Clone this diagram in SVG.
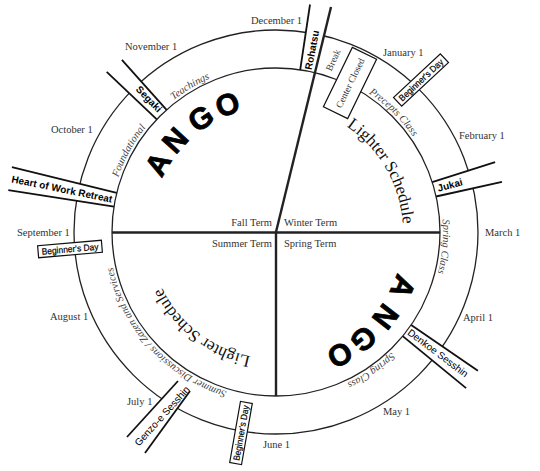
<svg xmlns="http://www.w3.org/2000/svg" xmlns:xlink="http://www.w3.org/1999/xlink" width="540" height="471" viewBox="0 0 540 471">
<style>
.ring{fill:none;stroke:#222;stroke-width:1.3}
.dv{stroke:#222;stroke-width:2.4;fill:none}
.ev{stroke:#111;stroke-width:1.8;fill:none}
.wf{fill:#fff;stroke:none}
.box{fill:#fff;stroke:#111;stroke-width:1.2}
.mo{font-family:"Liberation Serif",serif;font-size:10.5px;fill:#333}
.it{font-family:"Liberation Serif",serif;font-style:italic;font-size:10.5px;fill:#444}
.big{font-family:"Liberation Sans",Arial,sans-serif;font-weight:bold;font-size:30px;fill:#000;stroke:#000;stroke-width:0.8;text-anchor:middle}
.ls{font-family:"Liberation Serif",serif;font-size:17px;fill:#111}
.lab{font-family:"Liberation Sans",Arial,sans-serif;font-size:10px;fill:#000;text-anchor:middle}
.b{font-weight:bold}
.bd{font-family:"Liberation Sans",Arial,sans-serif;font-size:9px;fill:#000;stroke:#000;stroke-width:0.2;text-anchor:middle}
.cc{font-family:"Liberation Serif",serif;font-size:9.5px;fill:#333;text-anchor:middle}
</style>
<defs>
<path id="pTeach" d="M111.24,204.72 A167,167 0 0 1 331.47,74.48"/>
<path id="pFound" d="M120.20,292.12 A167,167 0 0 1 243.85,68.12"/>
<path id="pPrec" d="M259.99,65.77 A167,167 0 0 1 442.49,245.10"/>
<path id="pSpR" d="M394.09,113.91 A167,167 0 0 1 371.79,368.80"/>
<path id="pSpB" d="M442.23,248.01 A167,167 0 0 1 231.37,392.93"/>
<path id="pSum" d="M312.15,395.04 A167,167 0 0 1 116.73,181.78"/>
<path id="pLS1" d="M276.22,105.00 A127,127 0 0 1 385.87,295.69"/>
<path id="pLS2" d="M323.99,349.59 A127,127 0 0 1 150.17,214.76"/>
</defs>

<g id="outer-ring"><circle class="ring" cx="276" cy="232" r="202"/></g>

<g id="wedge-fills">
<polygon class="wf" points="300.2,69.8 310,4.5 331,7 314.84,72.67"/>
<polygon class="wf" points="156.8,119.3 106.7,71.9 121.9,59.9 166.6,109.8"/>
<polygon class="wf" points="116.7,192.9 11.9,167.1 8.3,190.1 114,206.6"/>
<polygon class="wf" points="432.2,182.1 495.1,162.1 502,181.9 436.1,196.5"/>
<polygon class="wf" points="411.2,324.9 477.9,370.8 466.1,388.1 402.7,336.1"/>
<polygon class="wf" points="178,381 127,437 145,453 190,391"/>
</g>

<g id="inner-ring"><circle class="ring" cx="276" cy="232" r="164"/></g>

<g id="connectors">
<line class="dv" x1="112" y1="232.5" x2="440" y2="232.5"/>
<line class="dv" x1="276" y1="232" x2="276" y2="396"/>
<line class="dv" x1="276" y1="232" x2="331" y2="7"/>
</g>

<g id="rohatsu">
<line class="ev" x1="300.2" y1="69.8" x2="310" y2="4.5"/>
<text class="lab b" font-size="9.5" transform="translate(312,50) rotate(-79)" dy="0.35em">Rohatsu</text>
</g>
<g id="segaki">
<line class="ev" x1="156.8" y1="119.3" x2="106.7" y2="71.9"/>
<line class="ev" x1="166.6" y1="109.8" x2="121.9" y2="59.9"/>
<text class="lab b" transform="translate(149,99) rotate(46)" dy="0.35em">Segaki</text>
</g>
<g id="heart-of-work">
<line class="ev" x1="116.7" y1="192.9" x2="11.9" y2="167.1"/>
<line class="ev" x1="114" y1="206.6" x2="8.3" y2="190.1"/>
<text class="lab b" transform="translate(62,189) rotate(11.5)" dy="0.35em">Heart of Work Retreat</text>
</g>
<g id="jukai">
<line class="ev" x1="432.2" y1="182.1" x2="495.1" y2="162.1"/>
<line class="ev" x1="436.1" y1="196.5" x2="502" y2="181.9"/>
<text class="lab b" transform="translate(450,185) rotate(-15)" dy="0.35em">Jukai</text>
</g>
<g id="denkoe">
<line class="ev" x1="411.2" y1="324.9" x2="477.9" y2="370.8"/>
<line class="ev" x1="402.7" y1="336.1" x2="466.1" y2="388.1"/>
<text class="lab" transform="translate(438,353) rotate(37)" dy="0.35em">Denkoe Sesshin</text>
</g>
<g id="genzoe">
<line class="ev" x1="178" y1="381" x2="127" y2="437"/>
<line class="ev" x1="190" y1="391" x2="145" y2="453"/>
<text class="lab" transform="translate(162,416) rotate(-48)" dy="0.35em">Genzo-e Sesshin</text>
</g>

<g id="ring-texts">
<text class="it" text-anchor="middle"><textPath xlink:href="#pTeach" href="#pTeach" startOffset="50%">Teachings</textPath></text>
<text class="it" text-anchor="middle"><textPath xlink:href="#pFound" href="#pFound" startOffset="50%">Foundational</textPath></text>
<text class="it" text-anchor="middle"><textPath xlink:href="#pPrec" href="#pPrec" startOffset="50%">Precepts Class</textPath></text>
<text class="it" text-anchor="middle"><textPath xlink:href="#pSpR" href="#pSpR" startOffset="50%">Spring Class</textPath></text>
<text class="it" text-anchor="middle"><textPath xlink:href="#pSpB" href="#pSpB" startOffset="50%">Spring Class</textPath></text>
<text class="it" text-anchor="middle"><textPath xlink:href="#pSum" href="#pSum" startOffset="50%">Summer Discussions / Zazen and Services</textPath></text>
</g>

<g id="break">
<text class="cc" font-size="10" transform="translate(333,60) rotate(-65)" dy="0.35em">Break</text>
</g>
<g id="center-closed">
<rect class="box" x="-33" y="-13.5" width="66" height="27" transform="translate(350,83) rotate(-64)"/>
<text class="cc" transform="translate(350,83) rotate(-64)" dy="0.35em">Center Closed</text>
</g>

<g id="beginners-jan">
<g transform="translate(421,80) rotate(-43)"><rect class="box" x="-32" y="-6" width="64" height="12"/><text class="bd" dy="0.35em" textLength="57" lengthAdjust="spacingAndGlyphs">Beginner's Day</text></g>
</g>
<g id="beginners-sep">
<g transform="translate(70,249) rotate(-5)"><rect class="box" x="-32" y="-6" width="64" height="12"/><text class="bd" dy="0.35em" textLength="57" lengthAdjust="spacingAndGlyphs">Beginner's Day</text></g>
</g>
<g id="beginners-jun">
<g transform="translate(241,433) rotate(-80)"><rect class="box" x="-31" y="-6" width="62" height="12"/><text class="bd" dy="0.35em" textLength="56" lengthAdjust="spacingAndGlyphs">Beginner's Day</text></g>
</g>

<g id="ango-1">
<text class="big" transform="translate(166.88,169) rotate(-60)">A</text>
<text class="big" transform="translate(182.81,147.2) rotate(-47.7)">N</text>
<text class="big" transform="translate(206.46,126.93) rotate(-33.5)">G</text>
<text class="big" transform="translate(231.26,114.21) rotate(-20.8)">O</text>
</g>
<g id="ango-2">
<text class="big" transform="translate(393.56,282.63) rotate(113.3)">A</text>
<text class="big" transform="translate(377.28,310.28) rotate(127.7)">N</text>
<text class="big" transform="translate(356.9,331.19) rotate(140.8)">G</text>
<text class="big" transform="translate(335.1,345.54) rotate(152.5)">O</text>
</g>

<g id="lighter-1"><text class="ls" text-anchor="middle"><textPath xlink:href="#pLS1" href="#pLS1" startOffset="50%">Lighter Schedule</textPath></text></g>
<g id="lighter-2"><text class="ls" text-anchor="middle"><textPath xlink:href="#pLS2" href="#pLS2" startOffset="50%">Lighter Schedule</textPath></text></g>

<g id="terms">
<text class="mo" x="272" y="226" text-anchor="end">Fall Term</text>
<text class="mo" x="284" y="226">Winter Term</text>
<text class="mo" x="272" y="247" text-anchor="end">Summer Term</text>
<text class="mo" x="284" y="247">Spring Term</text>
</g>

<g id="months">
<text class="mo" x="251" y="24">December 1</text>
<text class="mo" x="125" y="50">November 1</text>
<text class="mo" x="383" y="56">January 1</text>
<text class="mo" x="459" y="139">February 1</text>
<text class="mo" x="485" y="236">March 1</text>
<text class="mo" x="463" y="321">April 1</text>
<text class="mo" x="383" y="415">May 1</text>
<text class="mo" x="263" y="448">June 1</text>
<text class="mo" x="127" y="405">July 1</text>
<text class="mo" x="50" y="320">August 1</text>
<text class="mo" x="17" y="236">September 1</text>
<text class="mo" x="51" y="133">October 1</text>
</g>
</svg>
